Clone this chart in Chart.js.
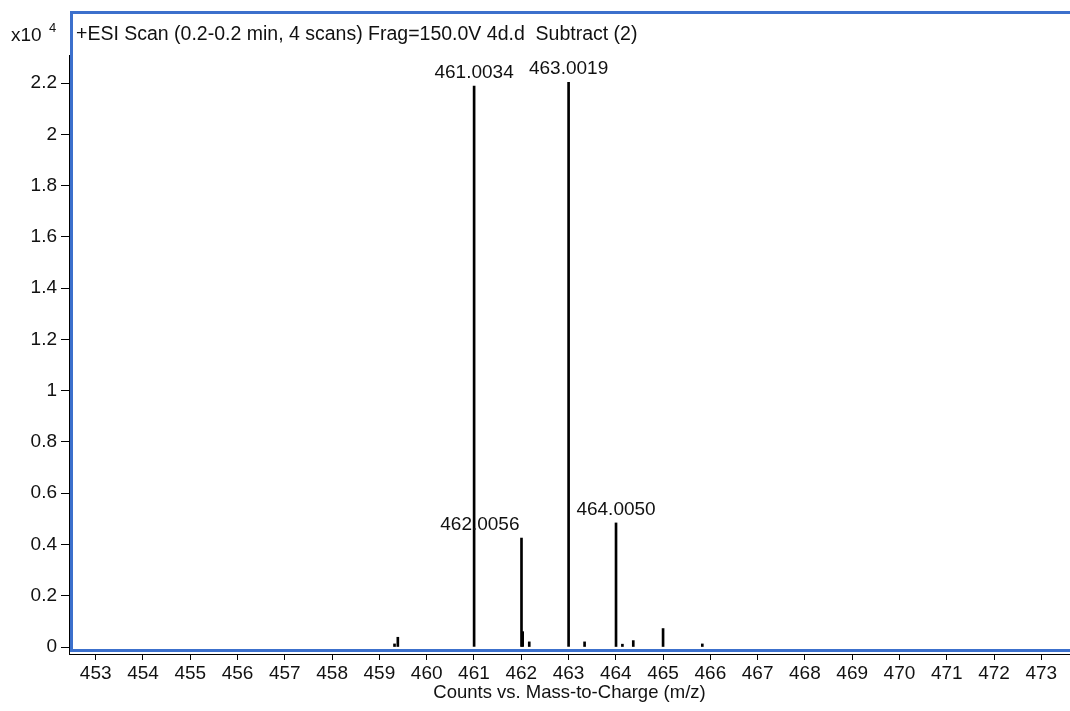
<!DOCTYPE html>
<html>
<head>
<meta charset="utf-8">
<script src="https://cdn.jsdelivr.net/npm/chart.js@4.4.1/dist/chart.umd.min.js"></script>
<style>
  body { margin: 0; background: #fff; }
  canvas { display: block; }
</style>
</head>
<body>
<canvas id="ms" width="1070" height="711"></canvas>
<script>
// spectrum sticks (m/z, counts)
const mz     = [459.32, 459.39, 461.0034, 462.0056, 462.03, 462.17, 463.0019, 463.34, 464.0050, 464.14, 464.37, 465.00, 465.83];
const counts = [120,    380,    21880,    4250,     600,    200,    22030,    200,    4840,     110,    250,    720,    120];

// annotated peaks
const labelMz    = [461.0034, 463.0019, 462.0056, 464.0050];
const labelText  = ['461.0034', '463.0019', '462.0056', '464.0050'];
const labelAlign = ['center', 'center', 'right', 'center'];

const xTicks = [453, 454, 455, 456, 457, 458, 459, 460, 461, 462, 463, 464, 465, 466, 467, 468, 469, 470, 471, 472, 473];
const yTicks = [0, 2000, 4000, 6000, 8000, 10000, 12000, 14000, 16000, 18000, 20000, 22000];

const titleText = '+ESI Scan (0.2-0.2 min, 4 scans) Frag=150.0V 4d.d  Subtract (2)';
const FONT = '"Liberation Sans", Arial, sans-serif';
const BLUE = '#3c70cc';

const points = mz.map((m, i) => ({ x: m, y: counts[i] }));

const decor = {
    id: 'decor',
    afterDraw(chart) {
        const ctx = chart.ctx;
        const xs = chart.scales.x, ys = chart.scales.y;
        ctx.save();

        // peak labels
        ctx.fillStyle = '#111';
        ctx.font = '19px ' + FONT;
        ctx.textBaseline = 'bottom';
        labelMz.forEach((m, i) => {
            const h = counts[mz.indexOf(m)];
            const px = xs.getPixelForValue(m);
            const py = ys.getPixelForValue(h) - 4;
            ctx.textAlign = labelAlign[i];
            ctx.fillText(labelText[i], labelAlign[i] === 'right' ? px - 2 : px, py);
        });

        // blue frame
        ctx.strokeStyle = BLUE;
        ctx.lineWidth = 3;
        ctx.beginPath();
        ctx.moveTo(1072, 12.5);
        ctx.lineTo(71.5, 12.5);
        ctx.lineTo(71.5, 650.5);
        ctx.lineTo(1072, 650.5);
        ctx.stroke();

        // header texts
        ctx.fillStyle = '#111';
        ctx.textAlign = 'left';
        ctx.textBaseline = 'middle';
        ctx.font = '19.5px ' + FONT;
        ctx.fillText(titleText, 76, 35);
        ctx.font = '19px ' + FONT;
        ctx.fillText('x10', 11, 36);
        ctx.font = '13px ' + FONT;
        ctx.fillText('4', 49, 28);
        ctx.restore();
    }
};

new Chart(document.getElementById('ms'), {
    type: 'bar',
    data: {
        datasets: [{
            data: points,
            backgroundColor: '#000',
            borderWidth: 0,
            barThickness: 2,
            grouped: false
        }]
    },
    options: {
        responsive: false,
        animation: false,
        layout: { padding: { top: 55, left: 0, right: 0, bottom: 0 } },
        plugins: { legend: { display: false }, tooltip: { enabled: false } },
        scales: {
            x: {
                type: 'linear',
                offset: false,
                min: 452.435,
                max: 473.607,
                afterBuildTicks(axis) { axis.ticks = xTicks.map(v => ({ value: v })); },
                afterFit(axis) { axis.height = 57; },
                grid: { drawOnChartArea: false, offset: false, tickLength: 6, color: '#000' },
                border: { color: '#000', width: 1 },
                ticks: {
                    color: '#111',
                    font: { family: FONT, size: 19 },
                    padding: 2,
                    maxRotation: 0,
                    autoSkip: false,
                    callback: v => String(v)
                },
                title: {
                    display: true,
                    text: 'Counts vs. Mass-to-Charge (m/z)',
                    color: '#111',
                    font: { family: FONT, size: 18.5 },
                    padding: { top: 0, bottom: 7 }
                }
            },
            y: {
                min: -273,
                max: 23094,
                afterBuildTicks(axis) { axis.ticks = yTicks.map(v => ({ value: v })); },
                afterFit(axis) { axis.width = 69; },
                grid: { drawOnChartArea: false, tickLength: 8, color: '#000' },
                border: { color: '#000', width: 1 },
                ticks: {
                    color: '#111',
                    font: { family: FONT, size: 19 },
                    padding: 4,
                    callback: v => String(+(v / 10000).toFixed(1))
                }
            }
        }
    },
    plugins: [decor]
});
</script>
</body>
</html>
